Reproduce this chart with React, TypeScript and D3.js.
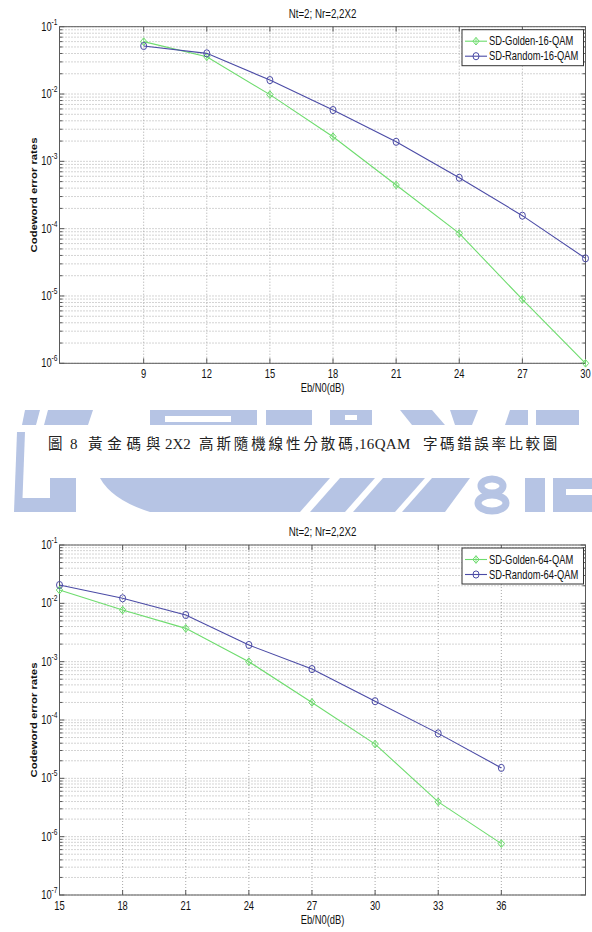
import React from 'react';
import * as d3 from 'd3';

// ---------- data ----------
const ebno16 = [9, 12, 15, 18, 21, 24, 27, 30];
const golden16 = [0.06, 0.0358, 0.0098, 0.00232, 4.45e-4, 8.5e-5, 8.9e-6, 1.0e-6];
const random16 = [0.0517, 0.0402, 0.0161, 0.00578, 0.00195, 5.7e-4, 1.56e-4, 3.62e-5];
const xTicks16 = [9, 12, 15, 18, 21, 24, 27, 30];
const xDomain16 = [5, 30];
const yExps16 = [-1, -2, -3, -4, -5, -6];

const ebno64 = [15, 18, 21, 24, 27, 30, 33, 36];
const golden64 = [0.0169, 0.00767, 0.00372, 0.001, 2.0e-4, 3.86e-5, 3.95e-6, 7.6e-7];
const random64 = [0.0206, 0.0122, 0.0063, 0.00193, 7.46e-4, 2.1e-4, 5.9e-5, 1.51e-5];
const xTicks64 = [15, 18, 21, 24, 27, 30, 33, 36];
const xDomain64 = [15, 40];
const yExps64 = [-1, -2, -3, -4, -5, -6, -7];

const titleText = 'Nt=2; Nr=2,2X2';
const xLabelText = 'Eb/N0(dB)';
const yLabelText = 'Codeword error rates';
const legend16 = ['SD-Golden-16-QAM', 'SD-Random-16-QAM'];
const legend64 = ['SD-Golden-64-QAM', 'SD-Random-64-QAM'];
// caption pieces: [text, isCJK, startX, letterSpacing]
const captionParts: [string, boolean, number, number][] = [
  ['圖', true, 48, 0],
  ['8', false, 70, 0],
  ['黃金碼與', true, 88, 4.8],
  ['2X2', false, 165, 0],
  ['高斯隨機線性分散碼', true, 199, 2.9],
  [',16QAM', false, 355, 0.3],
  ['字碼錯誤率比較圖', true, 423, 2.6],
];

// ---------- style ----------
const GREEN = '#6edc6e';
const BLUE = '#4b4ba6';
const GRID = '#a8a8a8';
const AXIS = '#5a5a5a';
const WM = '#b6c4e4';
const FONT = "'Liberation Sans', Arial, sans-serif";
const SX = 0.78;
const PL = 59.5;
const PR = 585.5;

function CT({ x, y, anchor = 'middle', size = 11.5, children, fill = '#111', weight = 'normal' }: any) {
  return (
    <text
      transform={`translate(${x},${y}) scale(${SX},1)`}
      textAnchor={anchor}
      fontSize={size}
      fontFamily={FONT}
      fontWeight={weight}
      fill={fill}
    >
      {children}
    </text>
  );
}

function Diamond({ cx, cy, color }: any) {
  const a = 3.2;
  const b = 3.8;
  return (
    <g>
      <path d={`M${cx},${cy - b}L${cx + a},${cy}L${cx},${cy + b}L${cx - a},${cy}Z`} fill="none" stroke={color} strokeWidth={1} />
      <line x1={cx} x2={cx} y1={cy - b} y2={cy + b} stroke={color} strokeWidth={0.8} />
    </g>
  );
}

function Circ({ cx, cy, color }: any) {
  return <ellipse cx={cx} cy={cy} rx={3} ry={3.6} fill="none" stroke={color} strokeWidth={1} />;
}

function Chart({ top, bottom, xDomain, xTicks, yExps, xs, g, r, legend }: any) {
  const x = d3.scaleLinear().domain(xDomain).range([PL, PR]);
  const maxE = d3.max(yExps) as number;
  const minE = d3.min(yExps) as number;
  const y = d3.scaleLog().domain([Math.pow(10, minE), Math.pow(10, maxE)]).range([bottom, top]);
  const minors: number[] = [];
  for (let e = minE; e < maxE; e++) {
    for (let k = 2; k <= 9; k++) minors.push(k * Math.pow(10, e));
  }
  const line = d3
    .line<[number, number]>()
    .x((d) => x(d[0]))
    .y((d) => y(d[1]));
  const gPts: [number, number][] = xs.map((v: number, i: number) => [v, g[i]]);
  const rPts: [number, number][] = xs.map((v: number, i: number) => [v, r[i]]);
  const midY = (top + bottom) / 2;
  const lgX0 = 462;
  const lgX1 = 583.5;
  const lgY0 = top + 3;
  const lgY1 = top + 39;
  return (
    <g>
      {/* grid */}
      {minors.map((v, i) => (
        <line key={'mg' + i} x1={PL} x2={PR} y1={y(v)} y2={y(v)} stroke={GRID} strokeWidth={1} strokeDasharray="1,2" />
      ))}
      {yExps.map((e: number) => (
        <line key={'yg' + e} x1={PL} x2={PR} y1={y(Math.pow(10, e))} y2={y(Math.pow(10, e))} stroke={GRID} strokeWidth={1} strokeDasharray="1,2" />
      ))}
      {xTicks.map((t: number) => (
        <line key={'xg' + t} x1={x(t)} x2={x(t)} y1={top} y2={bottom} stroke={GRID} strokeWidth={1} strokeDasharray="1,2" />
      ))}
      {/* ticks */}
      {minors.map((v, i) => (
        <g key={'mt' + i}>
          <line x1={PL} x2={PL + 3} y1={y(v)} y2={y(v)} stroke={AXIS} />
          <line x1={PR - 3} x2={PR} y1={y(v)} y2={y(v)} stroke={AXIS} />
        </g>
      ))}
      {yExps.map((e: number) => (
        <g key={'yt' + e}>
          <line x1={PL} x2={PL + 5} y1={y(Math.pow(10, e))} y2={y(Math.pow(10, e))} stroke={AXIS} />
          <line x1={PR - 5} x2={PR} y1={y(Math.pow(10, e))} y2={y(Math.pow(10, e))} stroke={AXIS} />
        </g>
      ))}
      {xTicks.map((t: number) => (
        <g key={'xt' + t}>
          <line x1={x(t)} x2={x(t)} y1={bottom} y2={bottom - 5} stroke={AXIS} />
          <line x1={x(t)} x2={x(t)} y1={top} y2={top + 5} stroke={AXIS} />
        </g>
      ))}
      {/* frame */}
      <rect x={PL} y={top} width={PR - PL} height={bottom - top} fill="none" stroke={AXIS} strokeWidth={1} />
      {/* tick labels */}
      {yExps.map((e: number) => (
        <CT key={'yl' + e} x={57.5} y={y(Math.pow(10, e)) + 4} anchor="end" size={12}>
          10
          <tspan dy={-6} fontSize={8.5}>
            {String(e)}
          </tspan>
        </CT>
      ))}
      {xTicks.map((t: number) => (
        <CT key={'xl' + t} x={x(t)} y={bottom + 14.5} size={12}>
          {String(t)}
        </CT>
      ))}
      {/* labels */}
      <CT x={(PL + PR) / 2} y={top - 9} size={12.5}>
        {titleText}
      </CT>
      <CT x={(PL + PR) / 2} y={bottom + 29} size={12}>
        {xLabelText}
      </CT>
      <text
        transform={`translate(37,${midY}) scale(${SX},1) rotate(-90)`}
        textAnchor="middle"
        fontSize={11.3}
        fontWeight={600}
        fontFamily={FONT}
        fill="#111"
      >
        {yLabelText}
      </text>
      {/* series */}
      <path d={line(gPts) || ''} fill="none" stroke={GREEN} strokeWidth={1.1} />
      {gPts.map((p, i) => (
        <Diamond key={'gm' + i} cx={x(p[0])} cy={y(p[1])} color={GREEN} />
      ))}
      <path d={line(rPts) || ''} fill="none" stroke={BLUE} strokeWidth={1.1} />
      {rPts.map((p, i) => (
        <Circ key={'rm' + i} cx={x(p[0])} cy={y(p[1])} color={BLUE} />
      ))}
      {/* legend */}
      <rect x={lgX0} y={lgY0} width={lgX1 - lgX0} height={lgY1 - lgY0} fill="#fff" stroke="#333" strokeWidth={1} />
      <line x1={465} x2={487} y1={lgY0 + 11.5} y2={lgY0 + 11.5} stroke={GREEN} strokeWidth={1.1} />
      <Diamond cx={476} cy={lgY0 + 11.5} color={GREEN} />
      <CT x={489} y={lgY0 + 15.5} anchor="start" size={12}>
        {legend[0]}
      </CT>
      <line x1={465} x2={487} y1={lgY0 + 26.5} y2={lgY0 + 26.5} stroke={BLUE} strokeWidth={1.1} />
      <Circ cx={476} cy={lgY0 + 26.5} color={BLUE} />
      <CT x={489} y={lgY0 + 30.5} anchor="start" size={12}>
        {legend[1]}
      </CT>
    </g>
  );
}

function Watermark() {
  return (
    <g fill={WM}>
      {/* top band */}
      <path d="M25,410 L40,410 L36,425 L22,425 Z" />
      <path d="M48,410 L93,410 L88,425 L44,425 Z" />
      <rect x={150} y={410} width={150} height={15} />
      <rect x={165} y={416} width={66} height={6} fill="#fff" />
      <rect x={257} y={410} width={9} height={15} fill="#fff" />
      <rect x={300} y={410} width={12} height={15} />
      <rect x={330} y={410} width={42} height={15} />
      <rect x={345} y={415} width={12} height={5} fill="#fff" />
      <path d="M400,410 L432,410 L445,425 L412,425 Z" />
      <path d="M450,410 L478,410 L472,425 L455,425 Z" />
      <path d="M510,410 L579,410 L579,425 L505,425 Z" />
      <rect x={528} y={410} width={8} height={15} fill="#fff" />
      {/* left bar */}
      <path d="M17,432 L25,432 L22,512 L14,512 Z" />
      {/* lower band */}
      <rect x={22} y={498} width={30} height={14} />
      <rect x={50} y={478} width={26} height={34} />
      <path d="M100,478 L470,478 L445,512 L150,512 Q112,500 100,478 Z" />
      <path d="M300,512 L330,478 L340,478 L310,512 Z" fill="#fff" />
      <path d="M345,512 L375,478 L383,478 L353,512 Z" fill="#fff" />
      <path d="M395,512 L425,478 L432,478 L402,512 Z" fill="#fff" />
      <ellipse cx={492} cy={486} rx={11} ry={7} fill="none" stroke={WM} strokeWidth={7} />
      <ellipse cx={492} cy={503} rx={14} ry={8} fill="none" stroke={WM} strokeWidth={7} />
      <rect x={525} y={478} width={20} height={34} />
      <rect x={553} y={478} width={39} height={34} />
      <rect x={566} y={489} width={26} height={6} fill="#fff" />
    </g>
  );
}

export default function App() {
  return (
    <svg
      width={592}
      height={932}
      viewBox="0 0 592 932"
      style={{ position: 'absolute', left: 0, top: 0, background: '#fff' }}
    >
      <rect x={0} y={0} width={592} height={932} fill="#fff" />
      <Watermark />
      <text y={449} fill="#222">
        {captionParts.map(([t, cjk, sx, ls], i) => (
          <tspan
            key={i}
            x={sx}
            fontSize={cjk ? 14.5 : 15}
            fontFamily={cjk ? "'Noto Sans CJK TC', 'Noto Sans CJK SC', sans-serif" : "'Liberation Serif', 'DejaVu Serif', serif"}
            fontWeight="normal"
            letterSpacing={ls}
          >
            {t}
          </tspan>
        ))}
      </text>
      <Chart
        top={26.7}
        bottom={363.3}
        xDomain={xDomain16}
        xTicks={xTicks16}
        yExps={yExps16}
        xs={ebno16}
        g={golden16}
        r={random16}
        legend={legend16}
      />
      <Chart
        top={545}
        bottom={895}
        xDomain={xDomain64}
        xTicks={xTicks64}
        yExps={yExps64}
        xs={ebno64}
        g={golden64}
        r={random64}
        legend={legend64}
      />
    </svg>
  );
}
